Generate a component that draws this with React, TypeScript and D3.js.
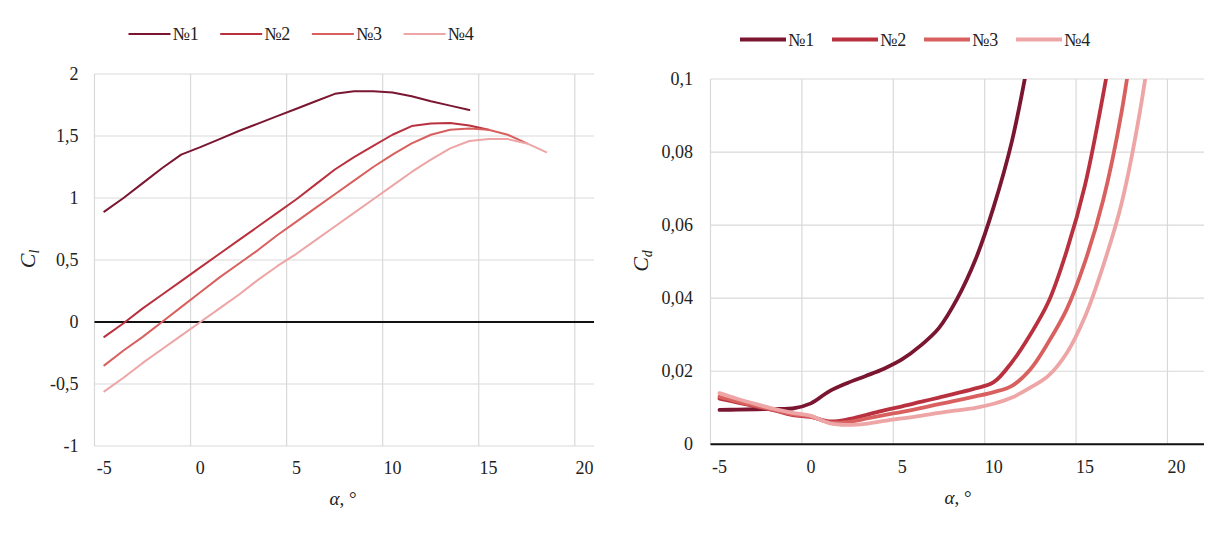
import { useEffect, useRef } from "react";
import * as d3 from "d3";

// angle of attack, degrees (shared by all series, each series uses its first n values)
const alphaDeg = [-5, -4, -3, -2, -1, 0, 1, 2, 3, 4, 5, 6, 7, 8, 9, 10, 11, 12, 13, 14, 15, 16, 17, 18, 19];

const seriesNames = ["№1", "№2", "№3", "№4"];
const seriesColors = ["#7b1631", "#b9313f", "#d8605f", "#eda5a5"];

// lift coefficient Cl
const cl1 = [0.89, 1.0, 1.12, 1.24, 1.35, 1.41, 1.475, 1.54, 1.6, 1.66, 1.72, 1.78, 1.84, 1.86, 1.86, 1.85, 1.82, 1.78, 1.745, 1.71];
const cl2 = [-0.12, -0.01, 0.11, 0.22, 0.33, 0.44, 0.55, 0.66, 0.77, 0.88, 0.99, 1.11, 1.23, 1.33, 1.42, 1.51, 1.58, 1.6, 1.605, 1.585, 1.55];
const cl3 = [-0.35, -0.23, -0.12, 0.0, 0.12, 0.24, 0.36, 0.47, 0.58, 0.7, 0.81, 0.92, 1.03, 1.14, 1.25, 1.35, 1.44, 1.51, 1.55, 1.56, 1.55, 1.51, 1.44];
const cl4 = [-0.56, -0.45, -0.33, -0.22, -0.11, 0.0, 0.11, 0.22, 0.34, 0.45, 0.55, 0.66, 0.77, 0.88, 0.99, 1.1, 1.21, 1.31, 1.4, 1.46, 1.475, 1.475, 1.44, 1.37];

// drag coefficient Cd
const cd1 = [0.0094, 0.0095, 0.0096, 0.0097, 0.0098, 0.0112, 0.0145, 0.0168, 0.0187, 0.0207, 0.0233, 0.027, 0.0318, 0.0398, 0.0505, 0.065, 0.083, 0.108];
const cd2 = [0.0125, 0.0114, 0.0103, 0.0093, 0.008, 0.0075, 0.0063, 0.0068, 0.008, 0.0093, 0.0104, 0.0116, 0.0128, 0.014, 0.0153, 0.017, 0.0225, 0.03, 0.039, 0.053, 0.071, 0.096, 0.125];
const cd3 = [0.013, 0.0117, 0.0105, 0.0094, 0.0082, 0.0076, 0.006, 0.0061, 0.007, 0.008, 0.0089, 0.0099, 0.011, 0.012, 0.0131, 0.0143, 0.016, 0.0205, 0.028, 0.037, 0.05, 0.067, 0.091, 0.125];
const cd4 = [0.014, 0.0124, 0.011, 0.0097, 0.0086, 0.0078, 0.0058, 0.0053, 0.0056, 0.0064, 0.0071, 0.0078, 0.0086, 0.0093, 0.01, 0.0111, 0.0128, 0.0155, 0.0188, 0.025, 0.035, 0.049, 0.066, 0.091, 0.125];

const xTicks = [-5, 0, 5, 10, 15, 20];
const clTicks = [-1, -0.5, 0, 0.5, 1, 1.5, 2];
const clTickLabels = ["-1", "-0,5", "0", "0,5", "1", "1,5", "2"];
const cdTicks = [0, 0.02, 0.04, 0.06, 0.08, 0.1];
const cdTickLabels = ["0", "0,02", "0,04", "0,06", "0,08", "0,1"];

const FONT = `"Liberation Serif", "DejaVu Serif", serif`;
const GRID = "#d9d9d9";
const TEXT = "#222";

type PanelOpts = {
  id: string;
  left: number;
  right: number;
  top: number;
  bottom: number;
  xMax: number;
  yDomain: [number, number];
  yTicks: number[];
  yLabels: string[];
  yLabelX: number;
  xLabelY: number;
  series: number[][];
  lineWidth: number;
  shift: number; // data & x labels sit a bit right of the gridlines in the original
  curve: d3.CurveFactory;
  legend: { x0: number; y: number; len: number; step: number; width: number };
  yTitle: { x: number; y: number; sub: string };
  xTitle: { x: number; y: number };
};

function drawPanel(svg: d3.Selection<SVGSVGElement, unknown, null, undefined>, o: PanelOpts) {
  const x = d3.scaleLinear().domain([-5, o.xMax]).range([o.left, o.right]);
  const y = d3.scaleLinear().domain(o.yDomain).range([o.bottom, o.top]);

  const g = svg.append("g");

  // gridlines
  g.selectAll("line.vgrid")
    .data(xTicks)
    .join("line")
    .attr("x1", (d) => x(d))
    .attr("x2", (d) => x(d))
    .attr("y1", o.top)
    .attr("y2", o.bottom)
    .attr("stroke", GRID)
    .attr("stroke-width", 1.2);

  g.selectAll("line.hgrid")
    .data(o.yTicks)
    .join("line")
    .attr("x1", o.left)
    .attr("x2", o.right)
    .attr("y1", (d) => y(d))
    .attr("y2", (d) => y(d))
    .attr("stroke", GRID)
    .attr("stroke-width", 1.2);

  // zero line
  g.append("line")
    .attr("x1", o.left)
    .attr("x2", o.right)
    .attr("y1", y(0))
    .attr("y2", y(0))
    .attr("stroke", "#111")
    .attr("stroke-width", 2);

  // tick labels
  g.selectAll("text.xt")
    .data(xTicks)
    .join("text")
    .attr("x", (d) => x(d) + o.shift)
    .attr("y", o.xLabelY)
    .attr("text-anchor", "middle")
    .style("font-family", FONT)
    .attr("font-size", 18)
    .attr("fill", TEXT)
    .text((d) => String(d));

  g.selectAll("text.yt")
    .data(o.yTicks)
    .join("text")
    .attr("x", o.yLabelX)
    .attr("y", (d) => y(d) + 6)
    .attr("text-anchor", "end")
    .style("font-family", FONT)
    .attr("font-size", 18)
    .attr("fill", TEXT)
    .text((_, i) => o.yLabels[i]);

  // series
  const clip = g.append("clipPath").attr("id", `clip-${o.id}`);
  clip.append("rect").attr("x", 0).attr("y", o.top).attr("width", 1229).attr("height", o.bottom - o.top + 10);

  const line = d3
    .line<[number, number]>()
    .x((d) => x(d[0]))
    .y((d) => y(d[1]))
    .curve(o.curve);

  g.append("g")
    .attr("clip-path", `url(#clip-${o.id})`)
    .append("g")
    .attr("transform", `translate(${o.shift},0)`)
    .selectAll("path")
    .data(o.series)
    .join("path")
    .attr("d", (vals) => line(vals.map((v, i) => [alphaDeg[i], v] as [number, number])))
    .attr("fill", "none")
    .attr("stroke", (_, i) => seriesColors[i])
    .attr("stroke-width", o.lineWidth)
    .attr("stroke-linejoin", "round")
    .attr("stroke-linecap", "round");

  // legend
  const lg = g.append("g");
  seriesNames.forEach((name, i) => {
    const lx = o.legend.x0 + i * o.legend.step;
    lg.append("line")
      .attr("x1", lx)
      .attr("x2", lx + o.legend.len)
      .attr("y1", o.legend.y)
      .attr("y2", o.legend.y)
      .attr("stroke", seriesColors[i])
      .attr("stroke-width", o.legend.width);
    lg.append("text")
      .attr("x", lx + o.legend.len + 2)
      .attr("y", o.legend.y + 6)
      .style("font-family", FONT)
      .attr("font-size", 18)
      .attr("fill", TEXT)
      .text(name);
  });

  // axis titles
  const yt = g
    .append("text")
    .attr("transform", `translate(${o.yTitle.x},${o.yTitle.y}) rotate(-90)`)
    .attr("text-anchor", "middle")
    .style("font-family", FONT)
    .attr("font-size", 22)
    .attr("fill", TEXT);
  yt.append("tspan").attr("font-style", "italic").text("C");
  yt.append("tspan").attr("font-style", "italic").attr("font-size", 14).attr("dy", 4).text(o.yTitle.sub);

  const xt = g
    .append("text")
    .attr("x", o.xTitle.x)
    .attr("y", o.xTitle.y)
    .attr("text-anchor", "middle")
    .style("font-family", FONT)
    .attr("font-size", 19)
    .attr("fill", TEXT);
  xt.append("tspan").attr("font-style", "italic").text("α");
  xt.append("tspan").text(", °");
}

export default function App() {
  const svgRef = useRef<SVGSVGElement | null>(null);

  useEffect(() => {
    if (!svgRef.current) return;
    const svg = d3.select(svgRef.current);
    svg.selectAll("*").remove();

    drawPanel(svg, {
      id: "cl",
      left: 94.5,
      right: 594,
      top: 74,
      bottom: 446,
      xMax: 21,
      yDomain: [-1, 2],
      yTicks: clTicks,
      yLabels: clTickLabels,
      yLabelX: 78.5,
      xLabelY: 474,
      series: [cl1, cl2, cl3, cl4],
      lineWidth: 2,
      shift: 9.8,
      curve: d3.curveLinear,
      legend: { x0: 128.5, y: 34, len: 42, step: 91.7, width: 2.2 },
      yTitle: { x: 35, y: 259, sub: "l" },
      xTitle: { x: 343, y: 505 },
    });

    drawPanel(svg, {
      id: "cd",
      left: 710.5,
      right: 1204,
      top: 79,
      bottom: 444.3,
      xMax: 22,
      yDomain: [0, 0.1],
      yTicks: cdTicks,
      yLabels: cdTickLabels,
      yLabelX: 693,
      xLabelY: 473,
      series: [cd1, cd2, cd3, cd4],
      lineWidth: 3.8,
      shift: 9,
      curve: d3.curveCatmullRom,
      legend: { x0: 740, y: 39.5, len: 46, step: 92, width: 4 },
      yTitle: { x: 648, y: 261, sub: "d" },
      xTitle: { x: 958, y: 504 },
    });
  }, []);

  return (
    <svg
      ref={svgRef}
      width={1229}
      height={533}
      style={{ position: "absolute", left: 0, top: 0, background: "#fff", fontFamily: FONT }}
    />
  );
}
